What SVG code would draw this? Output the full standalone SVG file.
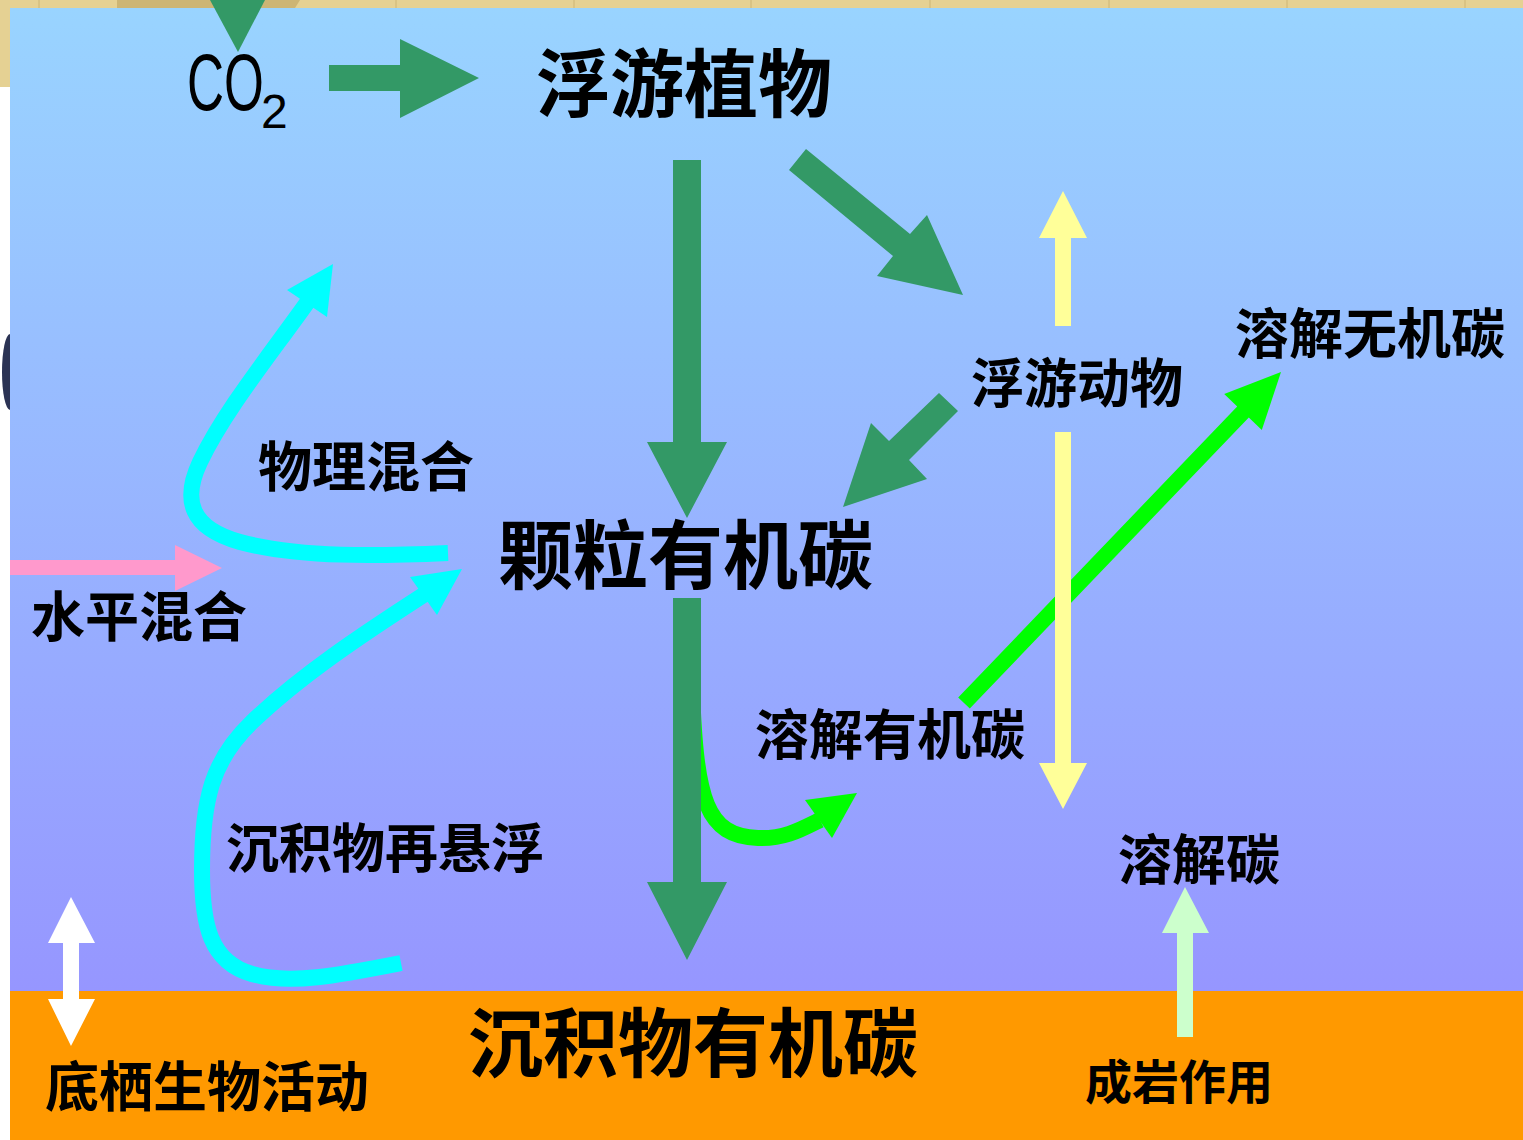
<svg xmlns="http://www.w3.org/2000/svg" width="1523" height="1140" viewBox="0 0 1523 1140">
<defs>
<linearGradient id="water" x1="0" y1="8" x2="0" y2="991" gradientUnits="userSpaceOnUse">
<stop offset="0" stop-color="#99d4ff"/>
<stop offset="1" stop-color="#9696ff"/>
</linearGradient>
<style>
.lbl{font-family:"Noto Sans CJK SC","Noto Sans CJK TC",sans-serif;font-weight:700;fill:#000}
.dg{fill:#339966}
.cy{fill:none;stroke:#00ffff;stroke-width:16}
.cyh{fill:#00ffff}
.bg{fill:none;stroke:#00ff00;stroke-width:16}
.bgh{fill:#00ff00}
.yl{fill:#ffff99}
</style>
</defs>
<g id="background">
<rect x="0" y="0" width="1523" height="1140" fill="#ffffff"/>
<rect x="0" y="0" width="1523" height="9" fill="#e5d193"/>
<rect x="0" y="0" width="10" height="87" fill="#e5d193"/>
<path d="M117,0 L300,0 L295,8 L117,8 Z" fill="#cdb574"/>
<g stroke="#cdb574" stroke-width="1">
<line x1="39" y1="0" x2="39" y2="9"/><line x1="396" y1="0" x2="396" y2="9"/><line x1="574" y1="0" x2="574" y2="9"/><line x1="751" y1="0" x2="751" y2="9"/><line x1="930" y1="0" x2="930" y2="9"/><line x1="1109" y1="0" x2="1109" y2="9"/><line x1="1287" y1="0" x2="1287" y2="9"/><line x1="1465" y1="0" x2="1465" y2="9"/>
</g>
<ellipse cx="10" cy="372" rx="8" ry="38" fill="#2b3354"/>
<rect x="10" y="8" width="1513" height="983" fill="url(#water)"/>
<rect x="10" y="991" width="1513" height="149" fill="#ff9900"/>
</g>
<g id="connectors">
<polygon class="dg" points="210,0 265,0 238,52"/>
<polygon class="dg" points="329,65 400,65 400,39 479,78 400,118 400,91 329,91"/>
<polygon class="dg" points="673,160 701,160 701,442 727,442 687,518 647,442 673,442"/>
<polygon class="dg" points="789,170 806,149 910,234 927,215 963,295 877,276 893,256"/>
<polygon class="dg" points="958,411 939,393 889,441 871,423 843,507 927,479 909,460"/>
<path class="bg" d="M692,690 C 696,800 706,836 758,838 C 784,839 800,830 820,820"/>
<polygon class="bgh" points="805,800 857,793 832,838"/>
<polygon class="dg" points="673,598 701,598 701,882 727,882 687,960 647,882 673,882"/>
<polygon class="bgh" points="958.2,697.5 1237.2,406.5 1224.2,394 1281,372 1261.8,430 1248.8,417.5 969.8,708.5"/>
<polygon class="yl" points="1055,326 1071,326 1071,238 1087,238 1063,191 1039,238 1055,238"/>
<polygon class="yl" points="1055,432 1071,432 1071,763 1087,763 1063,809 1039,763 1055,763"/>
<path class="cy" d="M448,553 C 380,556 300,558 240,542 C 190,528 182,500 200,462 C 225,410 270,355 309,300"/>
<polygon class="cyh" points="287,290 333,264 327,317"/>
<path class="cy" d="M401,963 C 340,975 290,985 252,974 C 210,962 202,925 202,870 C 202,800 212,760 252,722 C 300,676 360,636 425,594"/>
<polygon class="cyh" points="410,577 462,569 437,615"/>
<polygon fill="#ff99cc" points="10,560 175,560 175,545 222,568 175,591 175,575 10,575"/>
<polygon fill="#ffffff" points="71,897 95,943 79,943 79,999 95,999 71,1046 48,999 63,999 63,943 48,943"/>
<polygon fill="#ccffcc" points="1177,1037 1193,1037 1193,933 1209,933 1185,887 1162,933 1177,933"/>
</g>
<g id="node-co2">
<text transform="translate(187,110) scale(0.64,1)" font-family="Liberation Sans, Arial, sans-serif" font-size="80" fill="#000">CO</text>
<text x="261" y="128" font-family="Liberation Sans, Arial, sans-serif" font-size="48" fill="#000">2</text>
</g>
<g id="node-phytoplankton"><text class="lbl" x="536" y="111" font-size="74">浮游植物</text></g>
<g id="node-zooplankton"><text class="lbl" x="971" y="403" font-size="53">浮游动物</text></g>
<g id="node-dic"><text class="lbl" x="1235" y="354" font-size="54">溶解无机碳</text></g>
<g id="node-physical-mixing"><text class="lbl" x="258" y="487" font-size="54">物理混合</text></g>
<g id="node-poc"><text class="lbl" x="498" y="583" font-size="75">颗粒有机碳</text></g>
<g id="node-horizontal-mixing"><text class="lbl" x="31" y="637" font-size="54">水平混合</text></g>
<g id="node-doc"><text class="lbl" x="755" y="755" font-size="54">溶解有机碳</text></g>
<g id="node-resuspension"><text class="lbl" x="226" y="868" font-size="53">沉积物再悬浮</text></g>
<g id="node-dissolved-carbon"><text class="lbl" x="1118" y="880" font-size="54">溶解碳</text></g>
<g id="node-sediment-oc"><text class="lbl" x="468" y="1071" font-size="75">沉积物有机碳</text></g>
<g id="node-benthic"><text class="lbl" x="45" y="1107" font-size="54">底栖生物活动</text></g>
<g id="node-diagenesis"><text class="lbl" x="1085" y="1099" font-size="47">成岩作用</text></g>
</svg>
